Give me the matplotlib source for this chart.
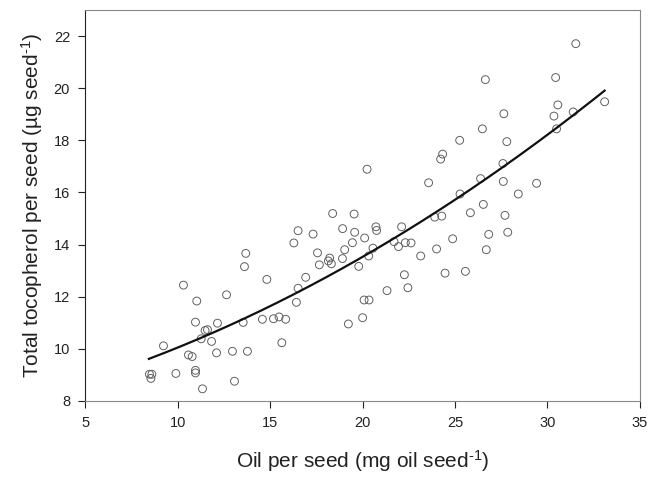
import numpy as np
import matplotlib
matplotlib.use("Agg")
import matplotlib.pyplot as plt

plt.rcParams['font.family'] = ['Liberation Sans', 'DejaVu Sans']
plt.rcParams['mathtext.fontset'] = 'custom'
plt.rcParams['mathtext.rm'] = 'Liberation Sans'
plt.rcParams['mathtext.it'] = 'Liberation Sans'

# oil per seed (mg) vs total tocopherol per seed (ug)
oil = [13.68, 13.61, 10.31, 12.64, 11.03, 10.96, 12.15, 13.54, 11.48, 11.61,
       11.27, 11.83, 9.23, 10.58, 10.78, 12.10, 12.96, 13.77, 8.47, 8.60,
       8.55, 9.90, 10.96, 10.96, 11.34, 13.07, 14.58, 15.18, 15.48, 15.84,
       15.63, 14.82,
       20.24, 18.38, 19.54, 16.51, 17.32, 18.92, 19.57, 20.72, 20.76, 20.11,
       16.28, 19.45, 19.03, 20.56, 17.56, 18.22, 18.15, 18.31, 18.91, 20.33,
       17.66, 19.79, 16.92, 16.51, 16.42, 20.08, 20.35, 20.00, 19.23,
       26.48, 25.25, 24.33, 24.22, 23.57, 26.38, 25.27, 26.53, 25.83, 23.90,
       24.28, 22.11, 26.82, 24.87, 21.70, 21.94, 22.31, 22.62, 24.00, 26.69,
       23.14, 22.26, 24.46, 25.56, 21.32, 22.45,
       31.53, 30.44, 30.56, 33.09, 27.64, 30.35, 31.39, 30.49, 27.80, 27.59,
       27.61, 29.41, 28.42, 27.70, 27.85, 26.64]
toco = [13.66, 13.15, 12.44, 12.07, 11.83, 11.02, 10.98, 11.01, 10.70, 10.73,
        10.38, 10.28, 10.11, 9.76, 9.70, 9.84, 9.90, 9.90, 9.02, 9.02,
        8.86, 9.05, 9.17, 9.07, 8.46, 8.75, 11.13, 11.15, 11.22, 11.13,
        10.23, 12.66,
        16.89, 15.19, 15.17, 14.53, 14.40, 14.61, 14.47, 14.68, 14.54, 14.25,
        14.06, 14.07, 13.80, 13.86, 13.68, 13.48, 13.37, 13.26, 13.46, 13.56,
        13.22, 13.16, 12.74, 12.32, 11.78, 11.87, 11.87, 11.19, 10.95,
        18.44, 18.00, 17.47, 17.28, 16.37, 16.53, 15.94, 15.54, 15.22, 15.05,
        15.09, 14.68, 14.39, 14.22, 14.11, 13.92, 14.07, 14.06, 13.83, 13.80,
        13.56, 12.84, 12.90, 12.97, 12.23, 12.34,
        21.71, 20.41, 19.36, 19.48, 19.02, 18.93, 19.09, 18.44, 17.95, 17.11,
        16.42, 16.35, 15.94, 15.12, 14.47, 20.33]

# points along the fitted curve
curve_x = [8.44, 13.9, 14.44, 15.52, 20.38, 20.92, 23.99, 26.33, 26.87, 27.41, 33.09]
curve_y = [9.58, 11.29, 11.45, 11.83, 13.70, 13.90, 15.25, 16.34, 16.60, 16.85, 19.94]

fig = plt.figure(figsize=(6.51, 4.8), dpi=100)
ax = fig.add_axes([0.131, 0.165, 0.852, 0.814])

ax.scatter(oil, toco, s=32, facecolors='none', edgecolors='#606060',
           linewidths=0.7, zorder=2)

coef = np.polyfit(curve_x, curve_y, 2)
xs = np.linspace(curve_x[0], curve_x[-1], 200)
ax.plot(xs, np.polyval(coef, xs), color='#111111', lw=1.6, zorder=3)

ax.set_xlim(5, 35)
ax.set_ylim(8, 23)
ax.set_xticks(np.arange(5, 36, 5))
ax.set_yticks(np.arange(8, 23, 2))
ax.tick_params(direction='out', length=5, width=0.8, labelsize=10.5,
               colors='#222222', pad=6)

for side in ['top', 'right', 'bottom']:
    ax.spines[side].set_color('#888888')
ax.spines['left'].set_color('#222222')

ax.set_xlabel('Oil per seed (mg oil seed$^{\\text{-}1}$)', fontsize=15,
              color='#222222', labelpad=13)
ax.set_ylabel('Total tocopherol per seed (\u00b5g seed$^{\\text{-}1}$)', fontsize=15,
              color='#222222', labelpad=6)

fig.savefig('out.png', dpi=100)
